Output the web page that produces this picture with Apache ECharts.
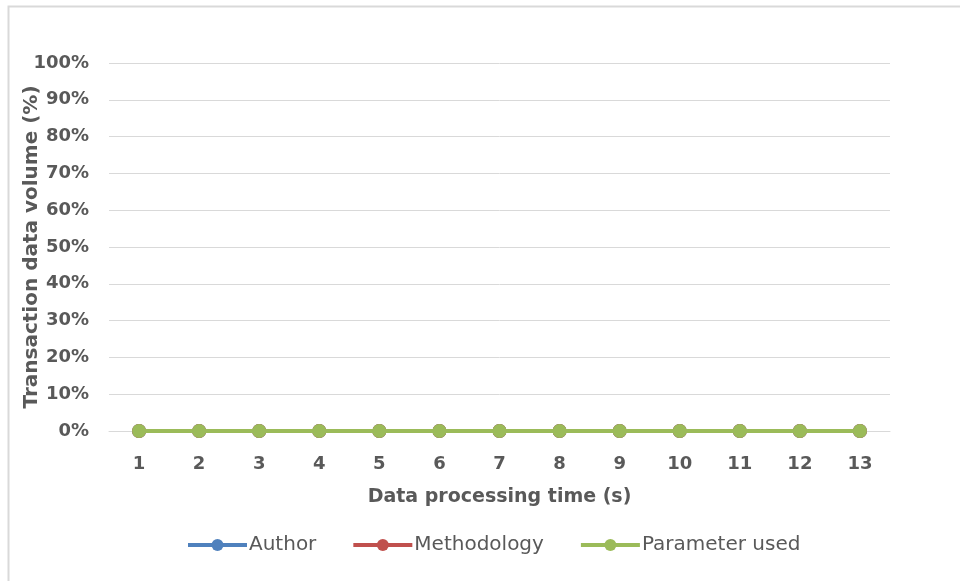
<!DOCTYPE html>
<html><head><meta charset="utf-8">
<script src="https://cdn.jsdelivr.net/npm/echarts@6/dist/echarts.min.js"></script>
<style>html,body{margin:0;padding:0;background:#fff}#c{width:960px;height:581px}</style>
</head><body><div id="c"></div>
<script>
const categories = ['1','2','3','4','5','6','7','8','9','10','11','12','13'];
const authorValues = [0,0,0,0,0,0,0,0,0,0,0,0,0];
const methodologyValues = [0,0,0,0,0,0,0,0,0,0,0,0,0];
const parameterValues = [0,0,0,0,0,0,0,0,0,0,0,0,0];
const seriesNames = ['Author','Methodology','Parameter used'];
const xAxisTitle = 'Data processing time (s)';
const yAxisTitle = 'Transaction data volume (%)';

const FONT = 'DejaVu Sans';
const chart = echarts.init(document.getElementById('c'));
function mk(name, data, color, z) {
  return {
    name, type: 'line', data, z,
    symbol: 'circle', symbolSize: 14,
    lineStyle: {width: 4, color},
    itemStyle: {color},
    animation: false
  };
}
chart.setOption({
  animation: false,
  graphic: [{
    type: 'rect', shape: {x: 8.5, y: 6.5, width: 1000, height: 1000},
    style: {fill: 'none', stroke: '#d9d9d9', lineWidth: 2}, silent: true
  }],
  grid: {left: 109, right: 70, top: 63, bottom: 150, containLabel: false, outerBoundsMode: 'none'},
  legend: {
    top: 535, left: 186, padding: 0, itemGap: 35, itemWidth: 59, itemHeight: 15,
    lineStyle: {width: 4},
    textStyle: {fontFamily: FONT, fontSize: 20, color: '#595959', padding: [0,0,0,-3]},
    data: seriesNames
  },
  xAxis: {
    type: 'category', data: categories, boundaryGap: true,
    name: xAxisTitle, nameLocation: 'middle', nameGap: 57,
    nameTextStyle: {fontFamily: FONT, fontSize: 19, fontWeight: 'bold', color: '#595959'},
    axisLine: {lineStyle: {color: '#d9d9d9', width: 1}},
    axisTick: {show: false},
    axisLabel: {fontFamily: FONT, fontSize: 18, fontWeight: 'bold', color: '#595959', margin: 24}
  },
  yAxis: {
    type: 'value', min: 0, max: 1, interval: 0.1,
    name: yAxisTitle, nameLocation: 'middle', nameGap: 67, nameMoveOverlap: false,
    nameTextStyle: {fontFamily: FONT, fontSize: 20, fontWeight: 'bold', color: '#595959'},
    axisLine: {show: false}, axisTick: {show: false},
    splitLine: {lineStyle: {color: '#d9d9d9', width: 1}},
    axisLabel: {fontFamily: FONT, fontSize: 18, fontWeight: 'bold', color: '#595959', margin: 20,
      formatter: v => Math.round(v * 100) + '%'}
  },
  series: [
    mk(seriesNames[0], authorValues, '#4F81BD', 2),
    mk(seriesNames[1], methodologyValues, '#C0504D', 3),
    mk(seriesNames[2], parameterValues, '#9BBB59', 4)
  ]
});
</script></body></html>
